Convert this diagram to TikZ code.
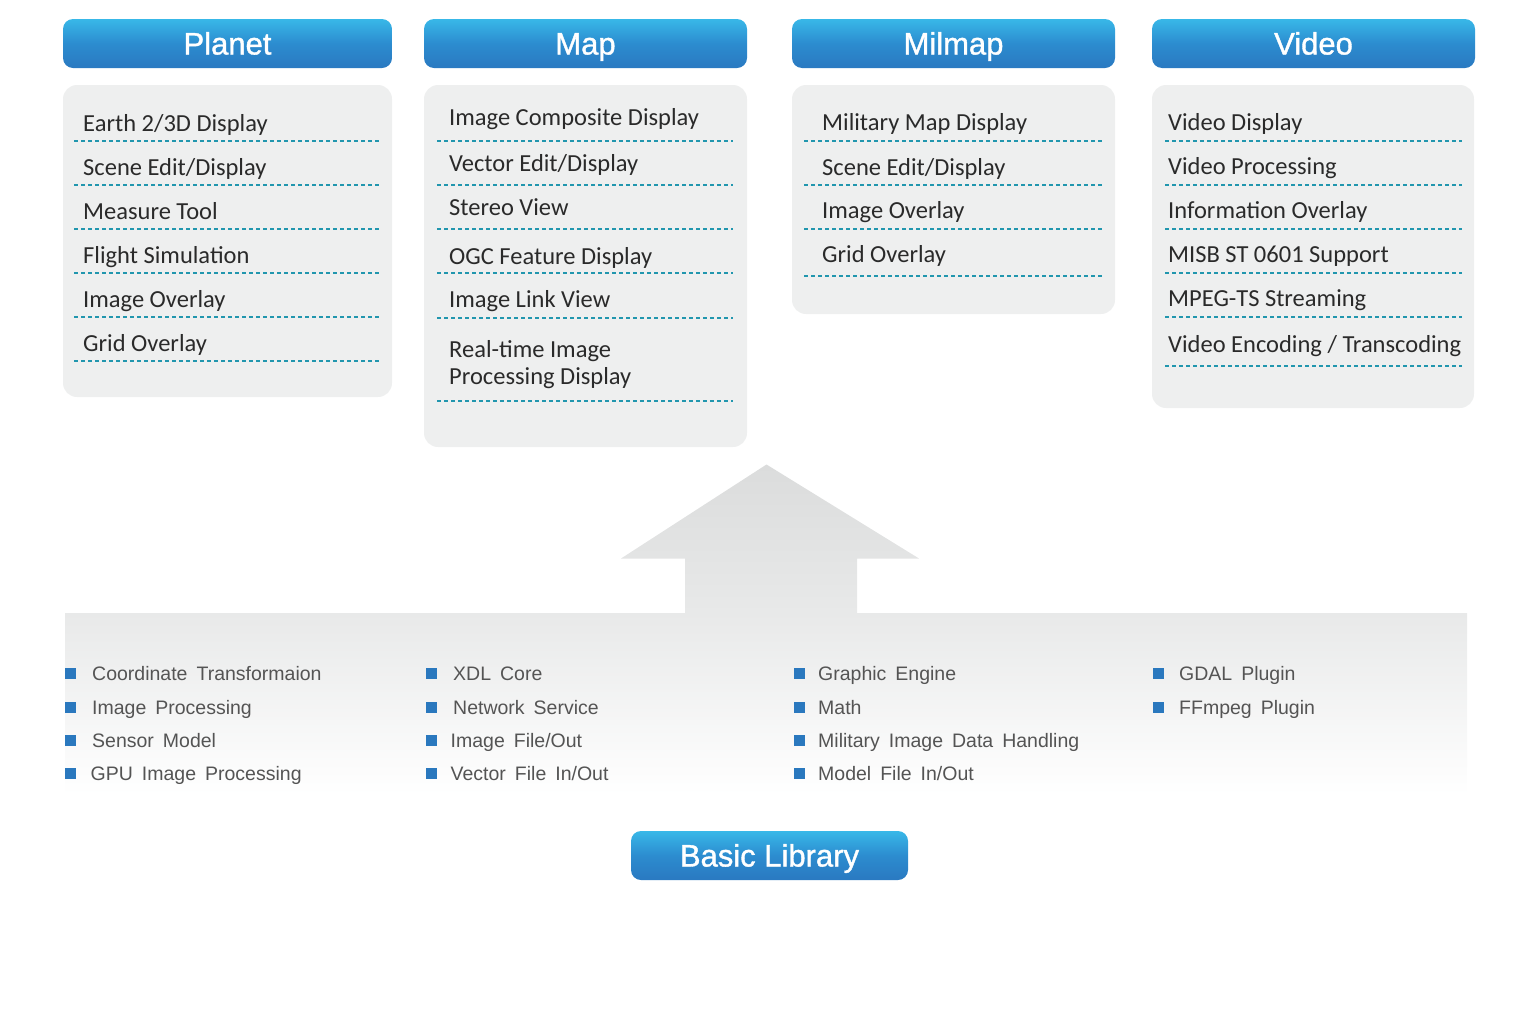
\documentclass[tikz,border=0pt]{standalone}
\usepackage{fontspec}
\setmainfont{Carlito}
\newfontfamily\hfont[FakeBold=1.2]{Liberation Sans}
\newfontfamily\lfont{Liberation Sans}
\newcommand\mylibfont{\lfont\fontsize{19.5}{24}\selectfont\spaceskip 9pt plus 1pt\relax}
\definecolor{hdrtop}{HTML}{38B8E8}
\definecolor{hdrmid}{HTML}{2C8CCF}
\definecolor{hdrbot}{HTML}{2A79C1}
\definecolor{boxgray}{HTML}{EEEFEF}
\definecolor{dashteal}{HTML}{2196AE}
\definecolor{itemtxt}{HTML}{2A2A2A}
\definecolor{libtxt}{HTML}{545454}
\definecolor{bulblue}{HTML}{2A78BE}
\definecolor{panelgray}{HTML}{E8E9E9}
\definecolor{arrtop}{HTML}{DBDCDC}
\definecolor{arrbot}{HTML}{E8E9E9}
\begin{document}
\begin{tikzpicture}[x=1pt,y=-1pt,
  hdr/.style={rounded corners=10pt, top color=hdrtop, bottom color=hdrbot, middle color=hdrmid,
    text=white, font=\hfont\fontsize{31}{36}\selectfont, text height=22pt, text depth=0pt,
    inner sep=0pt, minimum height=49pt},
  panel/.style={fill=boxgray, rounded corners=14pt, inner sep=0pt},
  item/.style={anchor=base west, inner sep=0pt, text=itemtxt, font=\fontsize{24.5}{28}\selectfont},
  dline/.style={draw=dashteal, line width=2pt, dash pattern=on 4pt off 3pt},
  bul/.style={fill=bulblue, minimum size=11pt, inner sep=0pt},
  lib/.style={anchor=base west, inner sep=0pt, text=libtxt, font=\mylibfont}
]
\useasboundingbox (0,0) rectangle (1531,1018);

% ---------- headers ----------
\node[hdr, minimum width=329pt] (planet) at (227.5,43.5) {Planet};
\node[hdr, minimum width=323pt] (map) at (585.5,43.5) {Map};
\node[hdr, minimum width=323pt] (milmap) at (953.5,43.5) {Milmap};
\node[hdr, minimum width=323pt] (video) at (1313.5,43.5) {Video};

% ---------- gray boxes ----------
\node[panel, minimum width=329pt, minimum height=312pt] (planetbox) at (227.5,241) {};
\node[panel, minimum width=323pt, minimum height=362pt] (mapbox) at (585.5,266) {};
\node[panel, minimum width=323pt, minimum height=229pt] (milbox) at (953.5,199.5) {};
\node[panel, minimum width=322pt, minimum height=323pt] (videobox) at (1313,246.5) {};

% ---------- Planet items ----------
\node[item] (p1) at (83,131) {Earth 2/3D Display};
\node[item] (p2) at (83,175) {Scene Edit/Display};
\node[item] (p3) at (83,219) {Measure Tool};
\node[item] (p4) at (83,263) {Flight Simulation};
\node[item] (p5) at (83,307) {Image Overlay};
\node[item] (p6) at (83,351) {Grid Overlay};
\foreach \y in {140.5,184.5,228.5,272.5,316.5,361} \draw[dline] (74,\y) -- (379,\y);

% ---------- Map items ----------
\node[item] (m1) at (449,125) {Image Composite Display};
\node[item] (m2) at (449,171) {Vector Edit/Display};
\node[item] (m3) at (449,215) {Stereo View};
\node[item] (m4) at (449,264) {OGC Feature Display};
\node[item] (m5) at (449,307) {Image Link View};
\node[item] (m6) at (449,357) {Real-time Image};
\node[item] (m7) at (449,384) {Processing Display};
\foreach \y in {140.5,184.5,228.5,273,318,400.5} \draw[dline] (437,\y) -- (733,\y);

% ---------- Milmap items ----------
\node[item] (l1) at (822,130) {Military Map Display};
\node[item] (l2) at (822,175) {Scene Edit/Display};
\node[item] (l3) at (822,218) {Image Overlay};
\node[item] (l4) at (822,262) {Grid Overlay};
\foreach \y in {140.5,185,229,276} \draw[dline] (804,\y) -- (1102,\y);

% ---------- Video items ----------
\node[item] (v1) at (1168,130.5) {Video Display};
\node[item] (v2) at (1168,174) {Video Processing};
\node[item] (v3) at (1168,218) {Information Overlay};
\node[item] (v4) at (1168,262.5) {MISB ST 0601 Support};
\node[item] (v5) at (1168,306) {MPEG-TS Streaming};
\node[item] (v6) at (1168,352) {Video Encoding / Transcoding};
\foreach \y in {141,185,229,273,317,366} \draw[dline] (1165,\y) -- (1462,\y);

% ---------- bottom panel and arrow ----------
\shade[top color=panelgray, bottom color=white] (65,613) rectangle (1467,795);
\shade[top color=arrtop, bottom color=arrbot]
  (766.5,464.5) -- (919,558.5) -- (857,558.5) -- (857,613.5) -- (685,613.5)
  -- (685,558.5) -- (621,558.5) -- cycle;

% ---------- library list ----------
\foreach \c/\bx/\n in {1/70.5/4, 2/431/4, 3/799/4, 4/1158.5/2}{
  \foreach \r/\by in {1/673, 2/707, 3/740, 4/773}{
    \ifnum\r>\n\else
      \node[bul] (b\c\r) at (\bx,\by) {};
    \fi
  }
}
\node[lib] (t11) at (92,680.5) {Coordinate Transformaion};
\node[lib] (t12) at (92,714) {Image Processing};
\node[lib] (t13) at (92,747) {Sensor Model};
\node[lib] (t14) at (90.5,780) {GPU Image Processing};
\node[lib] (t21) at (453,680.5) {XDL Core};
\node[lib] (t22) at (453,714) {Network Service};
\node[lib] (t23) at (450.5,747) {Image File/Out};
\node[lib] (t24) at (450.5,780) {Vector File In/Out};
\node[lib] (t31) at (818,680.5) {Graphic Engine};
\node[lib] (t32) at (818,714) {Math};
\node[lib] (t33) at (818,747) {Military Image Data Handling};
\node[lib] (t34) at (818,780) {Model File In/Out};
\node[lib] (t41) at (1179,680.5) {GDAL Plugin};
\node[lib] (t42) at (1179,714) {FFmpeg Plugin};

% ---------- Basic Library ----------
\node[hdr, minimum width=277pt] (basic) at (769.5,855.5) {Basic Library};
\end{tikzpicture}
\end{document}
